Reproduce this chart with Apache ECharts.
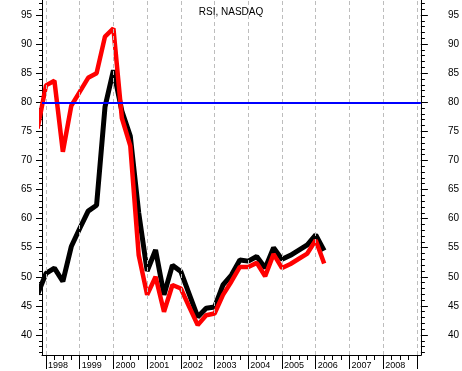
<!DOCTYPE html>
<html>
<head>
<meta charset="utf-8">
<title>RSI, NASDAQ</title>
<script src="https://cdn.jsdelivr.net/npm/echarts@6/dist/echarts.min.js"></script>
<style>
    html, body { margin: 0; padding: 0; background: #fff; }
    #rsiChart { width: 462px; height: 371px; }
</style>
</head>
<body>
<div id="rsiChart"></div>
<script>
// quarter positions (decimal year)
const quarters = [
    1997.75, 1998.0, 1998.25, 1998.5, 1998.75, 1999.0, 1999.25, 1999.5, 1999.75,
    2000.0, 2000.25, 2000.5, 2000.75, 2001.0, 2001.25, 2001.5, 2001.75,
    2002.0, 2002.25, 2002.5, 2002.75, 2003.0, 2003.25, 2003.5, 2003.75,
    2004.0, 2004.25, 2004.5, 2004.75, 2005.0, 2005.25, 2005.5, 2005.75,
    2006.0, 2006.25
];
const redRsi = [
    75.5, 82.9, 83.7, 71.5, 79.4, 81.8, 84.2, 85.0, 91.3,
    92.7, 77.3, 72.5, 53.7, 46.9, 50.0, 44.0, 48.6,
    48.0, 44.8, 41.7, 43.4, 43.7, 46.9, 49.2, 51.7,
    51.7, 52.4, 50.1, 53.9, 51.5, 52.2, 53.1, 54.0,
    56.3, 52.3
];
const blackRsi = [
    47.0, 50.6, 51.5, 49.2, 55.2, 58.3, 61.3, 62.3, 79.2,
    85.5, 78.5, 74.2, 61.0, 51.0, 54.6, 46.9, 52.0,
    50.9, 47.0, 43.1, 44.6, 44.8, 48.6, 50.3, 52.9,
    52.7, 53.5, 51.5, 55.0, 53.0, 53.7, 54.6, 55.5,
    57.2, 54.5
];
const yearTicks = [1998, 1999, 2000, 2001, 2002, 2003, 2004, 2005, 2006, 2007, 2008, 2009];
const yearLabels = [1998, 1999, 2000, 2001, 2002, 2003, 2004, 2005, 2006, 2007, 2008];
const yTicks = [40, 45, 50, 55, 60, 65, 70, 75, 80, 85, 90, 95];
const refLevel = 80;

const X_MIN = 1997.8814, X_MAX = 2009.1186;
const Y_MIN = 36.5625, Y_MAX = 97.578;

const minorY = [];
for (let v = 37; v <= 97; v++) minorY.push(v);
const minorX = [];
for (let q = 1998; q <= 2009; q += 0.25) minorX.push(q);

const font = "'Liberation Sans', Arial, sans-serif";

const yAxisBase = (pos, len, labels, margin) => ({
    type: 'value',
    position: pos,
    min: Y_MIN,
    max: Y_MAX,
    axisLine: { show: true, lineStyle: { color: '#000', width: 1 } },
    axisTick: {
        show: true, inside: false, length: len,
        lineStyle: { color: '#000', width: 1 },
        customValues: labels ? yTicks : minorY
    },
    axisLabel: labels ? {
        show: true, customValues: yTicks, margin: margin,
        color: '#000', fontSize: 10, fontFamily: font
    } : { show: false },
    splitLine: { show: false }
});

const chart = echarts.init(document.getElementById('rsiChart'));
chart.setOption({
    animation: false,
    backgroundColor: '#fff',
    title: {
        text: 'RSI, NASDAQ',
        left: 'center',
        top: 2,
        textStyle: { fontSize: 10, fontWeight: 'normal', color: '#000', fontFamily: font }
    },
    grid: { left: 42, right: 41, top: 0, bottom: 16 },
    xAxis: [
        {
            type: 'value', min: X_MIN, max: X_MAX, position: 'bottom',
            axisLine: { show: true, lineStyle: { color: '#000', width: 1 } },
            axisTick: { show: true, length: 14, lineStyle: { color: '#000' }, customValues: yearTicks },
            axisLabel: {
                customValues: yearLabels, align: 'left', margin: 6,
                color: '#000', fontSize: 9, fontFamily: font,
                padding: [0, 0, 0, 2],
                formatter: v => String(Math.round(v))
            },
            splitLine: { show: false }
        },
        {
            type: 'value', min: X_MIN, max: X_MAX, position: 'bottom',
            axisLine: { show: false },
            axisTick: { show: true, length: 5, lineStyle: { color: '#000' }, customValues: minorX },
            axisLabel: { show: false },
            splitLine: { show: false }
        }
    ],
    yAxis: [
        yAxisBase('left', 6, true, 10),
        yAxisBase('left', 3, false),
        yAxisBase('right', 7, true, 27),
        yAxisBase('right', 4, false)
    ],
    series: [
        {
            name: 'grid',
            type: 'line',
            data: [],
            z: 1,
            markLine: {
                silent: true,
                symbol: ['none', 'none'],
                label: { show: false },
                lineStyle: { color: '#bdbdbd', type: [4, 3], width: 1 },
                data: yearTicks.map(y => ({ xAxis: y }))
            }
        },
        {
            name: 'level',
            type: 'line',
            data: [],
            z: 2,
            markLine: {
                silent: true,
                symbol: ['none', 'none'],
                label: { show: false },
                lineStyle: { color: '#0000ff', type: 'solid', width: 2 },
                data: [{ yAxis: refLevel }]
            }
        },
        {
            name: 'RSI black',
            type: 'line',
            data: quarters.map((q, i) => [q, blackRsi[i]]),
            showSymbol: false,
            clip: true,
            z: 3,
            lineStyle: { color: '#000', width: 5 }
        },
        {
            name: 'RSI red',
            type: 'line',
            data: quarters.map((q, i) => [q, redRsi[i]]),
            showSymbol: false,
            clip: true,
            z: 4,
            lineStyle: { color: '#ff0000', width: 4.5 }
        }
    ]
});
</script>
</body>
</html>
